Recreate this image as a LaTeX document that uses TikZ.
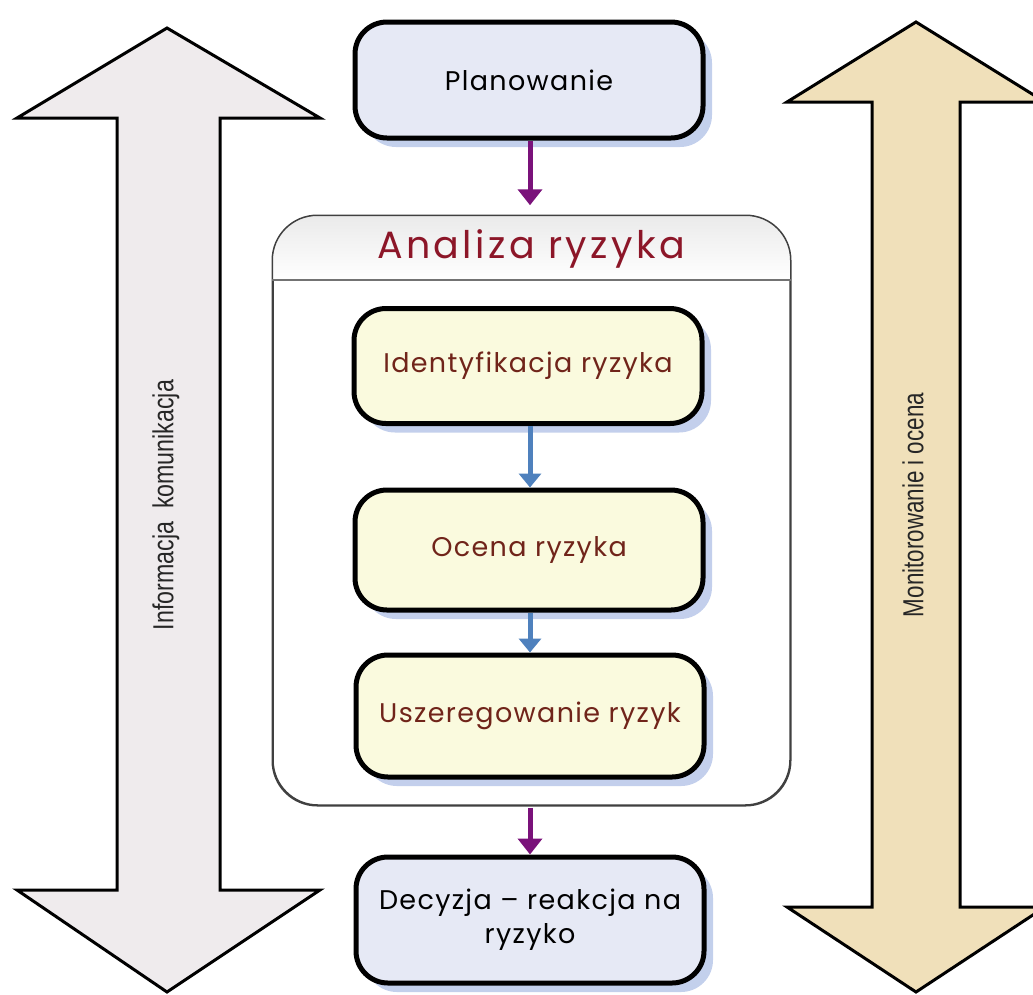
\documentclass[tikz,border=0pt]{standalone}
\usepackage{fontspec}
\setmainfont{Poppins}
\newfontfamily\boxfont[LetterSpace=5]{Poppins}
\newfontfamily\titlefont[LetterSpace=9]{Poppins}
\newfontfamily\narrowfont{Liberation Sans}
\usetikzlibrary{arrows.meta,shadows}
\definecolor{leftfill}{RGB}{239,235,237}
\definecolor{rightfill}{RGB}{240,224,186}
\definecolor{bluebox}{RGB}{230,233,245}
\definecolor{yellowbox}{RGB}{250,250,222}
\definecolor{titlered}{RGB}{140,22,40}
\definecolor{textbrown}{RGB}{112,36,26}
\definecolor{purplearr}{RGB}{122,18,122}
\definecolor{bluearr}{RGB}{79,129,189}
\definecolor{shadowblue}{RGB}{170,188,228}
\begin{document}
\begin{tikzpicture}[x=1pt,y=-1pt,
  bigarrow/.style={draw=black, line width=3pt, line join=miter},
  boxbase/.style={draw=black, line width=5pt, rounded corners=32pt,
    minimum width=348pt, align=center, inner sep=0pt,
    drop shadow={shadow xshift=9pt, shadow yshift=-9pt, fill=shadowblue, opacity=0.7}},
  outerbox/.style={boxbase, fill=bluebox, font=\boxfont\fontsize{27}{34}\selectfont, text=black},
  innerbox/.style={boxbase, fill=yellowbox, font=\boxfont\fontsize{27}{34}\selectfont, text=textbrown},
  container/.style={draw=black!75, line width=1.5pt, rounded corners=45pt,
    minimum width=517pt, minimum height=589pt, fill=white},
  purpleflow/.style={draw=purplearr, line width=5pt, -{Triangle[width=24pt,length=16pt]}},
  blueflow/.style={draw=bluearr, line width=5pt, -{Triangle[width=22pt,length=14pt]}},
  sidetext/.style={rotate=90, text=black!85, inner sep=0pt, font=\narrowfont}
]
\useasboundingbox (0,0) rectangle (1033,994);

% left double arrow
\draw[bigarrow, fill=leftfill] (167,28) -- (320,118) -- (220,118) -- (220,890) -- (320,890)
  -- (167,992) -- (17,890) -- (117,890) -- (117,118) -- (17,118) -- cycle;
% right double arrow
\draw[bigarrow, fill=rightfill] (916,22) -- (1045,102) -- (960,102) -- (960,907) -- (1045,907)
  -- (916,992) -- (787,907) -- (872,907) -- (872,102) -- (787,102) -- cycle;

\node[sidetext] (info) at (166,505) {\resizebox{250pt}{21pt}{Informacja\ \ komunikacja}};
\node[sidetext] (monit) at (913,505) {\resizebox{224pt}{21pt}{Monitorowanie i ocena}};

% container
\node[container] (cont) at (531.5,510.5) {};
\begin{scope}
  \clip[rounded corners=45pt] (cont.south west) rectangle (cont.north east);
  \fill[top color=black!8, bottom color=white] (273,216) rectangle (790,280);
\end{scope}
\draw[draw=black!75, line width=1.5pt, rounded corners=45pt] (cont.south west) rectangle (cont.north east);
\draw[black!55, line width=1.5pt] (cont.north west |- 0,280) -- (cont.north east |- 0,280);
\node[font=\titlefont\fontsize{38}{44}\selectfont, text=titlered] (title) at (531,249) {Analiza ryzyka};

% boxes
\node[outerbox, minimum height=116pt] (plan) at (529,80) {Planowanie};
\node[innerbox, minimum height=115pt] (ident) at (528,366) {Identyfikacja ryzyka};
\node[innerbox, minimum height=120pt] (ocena) at (529,550) {Ocena ryzyka};
\node[innerbox, minimum height=122pt] (usz) at (530,716) {Uszeregowanie ryzyk};
\node[outerbox, minimum height=126pt] (dec) at (530,920) {Decyzja – reakcja na\\ryzyko};

% connectors
\draw[purpleflow] (plan.south -| 530,0) -- ([yshift=10pt]cont.north -| 530,0);
\draw[blueflow] (ident.south -| 530,0) -- (ocena.north -| 530,0);
\draw[blueflow] (ocena.south -| 530,0) -- (usz.north -| 530,0);
\draw[purpleflow] ([yshift=-2pt]cont.south -| 530,0) -- (dec.north -| 530,0);
\end{tikzpicture}
\end{document}
